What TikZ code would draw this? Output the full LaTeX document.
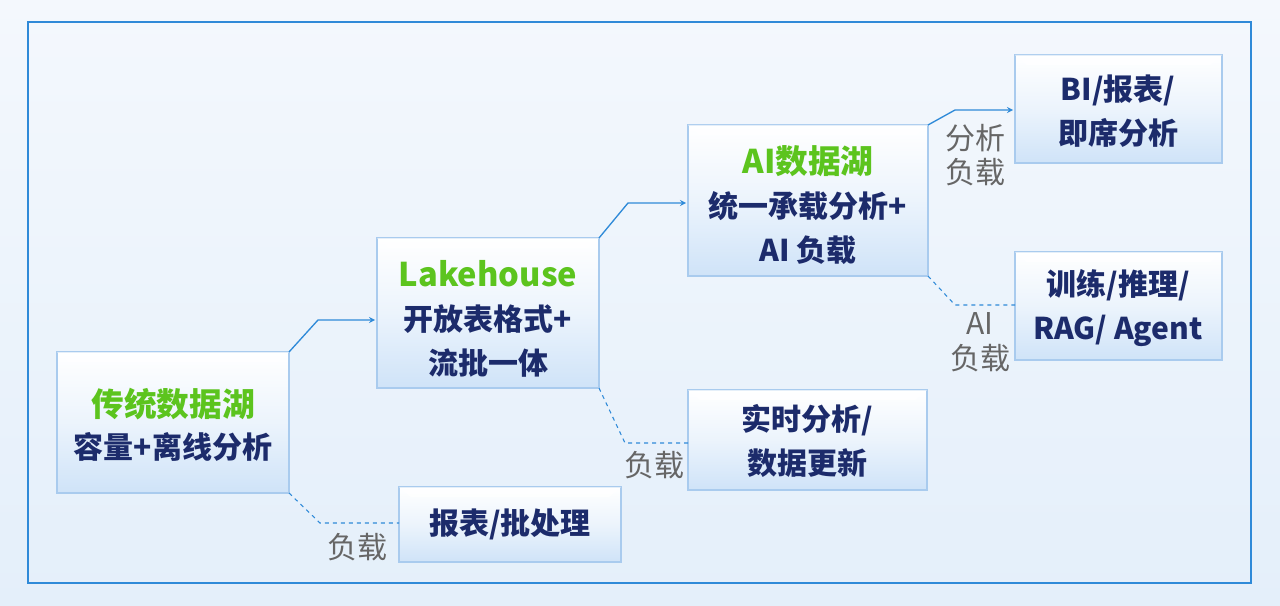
\documentclass[tikz,border=0pt]{standalone}
\usepackage{fontspec}
\setmainfont{Noto Sans CJK SC}
\definecolor{frameblue}{HTML}{2F8AD8}
\definecolor{txt}{HTML}{1C2B6B}
\definecolor{grn}{HTML}{5CC41E}
\definecolor{lbl}{HTML}{666666}
\definecolor{boxb}{HTML}{CFE3F8}
\definecolor{boxe}{HTML}{A9CBEE}
\definecolor{bgt}{HTML}{F4F8FD}
\definecolor{bgb}{HTML}{E4EFFA}
\begin{document}
\begin{tikzpicture}[x=0.75pt,y=-0.75pt,
  bx/.style={draw=boxe,line width=0.8pt,top color=white,bottom color=boxb,middle color=white!60!boxb},
  tx/.style={text=txt,font=\bfseries\fontsize{22.5}{32.5}\selectfont,align=center},
  gt/.style={text=grn,font=\bfseries\fontsize{24.5}{26}\selectfont},
  lb/.style={text=lbl,font=\fontsize{22.5}{26}\selectfont,align=center},
  arr/.style={draw=frameblue,line width=1pt,-stealth},
  dsh/.style={draw=frameblue,line width=0.8pt,dashed}]
\useasboundingbox (0,0) rectangle (1280,606);
\shade[top color=bgt,bottom color=bgb] (0,0) rectangle (1280,606);
\draw[frameblue,line width=1.5pt] (28,22) rectangle (1251,583);
% boxes
\foreach \n/\a/\b/\c/\d in {b1/57/352/289/493, b2/377/238/599/388, b3/688/125/928/276, b4/1015/55/1222/163, b5/1015/252/1222/360, b6/688/390/927/490, b7/399/487/621/562}{
  \draw[bx] (\a,\b) rectangle (\c,\d);
  \fill[white,opacity=0.7] (\a,\b) -- (\c,\b) -- (\c-12,\b+10) -- (\a+12,\b+10) -- cycle;
  \coordinate (\n tr) at (\c,\b); \coordinate (\n br) at (\c,\d);
  \coordinate (\n l) at (\a,{(\b+\d)/2});
}
\node[gt] (t1) at (173,404) {传统数据湖};
\node[tx] (t1b) at (173,447) {容量+离线分析};
\node[gt] (t2) at (488,274) {Lakehouse};
\node[tx] (t2b) at (488,341) {开放表格式+\\流批一体};
\node[gt] (t3) at (808,161) {AI数据湖};
\node[tx] (t3b) at (808,228) {统一承载分析+\\AI 负载};
\node[tx] (t4) at (1118,111) {BI/报表/\\即席分析};
\node[tx] (t5) at (1118,308) {训练/推理/\\RAG/ Agent};
\node[tx] (t6) at (807,441) {实时分析/\\数据更新};
\node[tx] (t7) at (510,524) {报表/批处理};
% connectors
\coordinate (e1) at (375,320); \coordinate (e2) at (686,203); \coordinate (e3) at (1013,110);
\draw[arr] (b1tr) -- (318,320) -- (e1);
\draw[arr] (b2tr) -- (628,203) -- (e2);
\draw[arr] (b3tr) -- (955,110) -- (e3);
\coordinate (d1) at (399,523); \coordinate (d2) at (688,443); \coordinate (d3) at (1015,305);
\draw[dsh] (b1br) -- (320,523) -- (d1);
\draw[dsh] (b2br) -- (625,443) -- (d2);
\draw[dsh] (b3br) -- (955,305) -- (d3);
\node[lb] (l1) at (357,547) {负载};
\node[lb] (l2) at (654,465) {负载};
\node[lb] (l3) at (980,342) {AI\\负载};
\node[lb] (l4) at (975,155) {分析\\负载};
\end{tikzpicture}
\end{document}
